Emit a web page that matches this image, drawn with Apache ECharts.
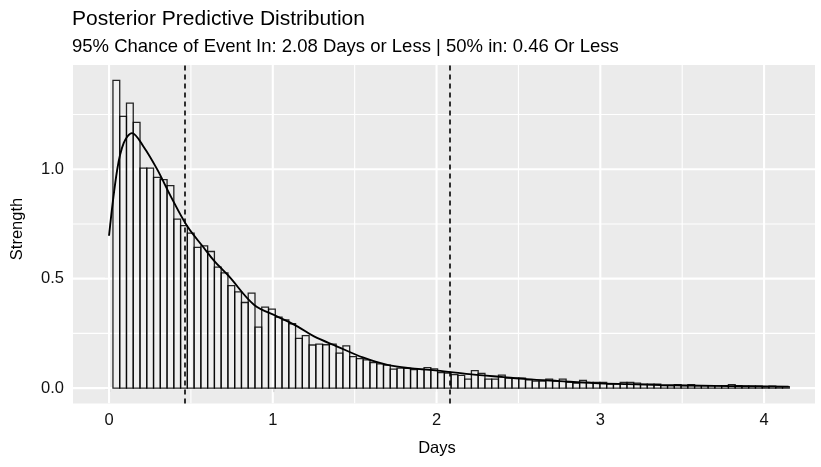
<!DOCTYPE html>
<html>
<head>
<meta charset="utf-8">
<script src="https://cdn.jsdelivr.net/npm/echarts@6/dist/echarts.min.js"></script>
<style>
  html, body { margin: 0; padding: 0; background: #fff; }
  #chart { width: 821px; height: 467px; }
</style>
</head>
<body>
<div id="chart"></div>
<script>
// Histogram of simulated days until the event (density-scaled bins)
const binStart = 0.024;
const binWidth = 0.0413;
const binHeights = [
  1.406, 1.241, 1.302, 1.214, 1.005, 1.005, 0.963, 0.952, 0.925, 0.772,
  0.742, 0.708, 0.643, 0.650, 0.624, 0.553, 0.526, 0.468, 0.440, 0.391,
  0.434, 0.279, 0.370, 0.361, 0.324, 0.312, 0.294, 0.227, 0.240, 0.197,
  0.201, 0.198, 0.201, 0.160, 0.193, 0.144, 0.135, 0.129, 0.117, 0.111,
  0.105, 0.087, 0.091, 0.090, 0.084, 0.087, 0.094, 0.088, 0.071, 0.069,
  0.062, 0.058, 0.041, 0.080, 0.067, 0.041, 0.041, 0.059, 0.046, 0.046,
  0.046, 0.038, 0.032, 0.032, 0.041, 0.032, 0.041, 0.027, 0.023, 0.035,
  0.026, 0.026, 0.026, 0.018, 0.018, 0.026, 0.026, 0.023, 0.018, 0.018,
  0.018, 0.011, 0.011, 0.016, 0.011, 0.016, 0.011, 0.011, 0.011, 0.011,
  0.011, 0.016, 0.011, 0.009, 0.009, 0.009, 0.007, 0.009, 0.007, 0.007
];

// Kernel density estimate of the same draws
const densityX = [0.0, 0.05, 0.09, 0.14, 0.21, 0.295, 0.377, 0.478, 0.58, 0.641,
  0.733, 0.885, 1.028, 1.15, 1.252, 1.394, 1.55, 1.70, 1.85, 2.005, 2.2, 2.41,
  2.55, 2.75, 2.96, 3.17, 3.37, 3.7, 4.15];
const densityY = [0.696, 0.998, 1.12, 1.165, 1.104, 0.998, 0.876, 0.739, 0.64, 0.582,
  0.510, 0.381, 0.327, 0.282, 0.236, 0.190, 0.140, 0.106, 0.090, 0.080, 0.064, 0.050,
  0.041, 0.032, 0.023, 0.018, 0.014, 0.010, 0.007];

// 50% and 95% quantiles of the predictive draws
const quantileMarks = [0.46, 2.08];

// Axis ticks and panel grid
const xTicks = [0, 1, 2, 3, 4];
const xMinorGrid = [0.5, 1.5, 2.5, 3.5];
const yTicks = [0, 0.5, 1.0];
const yMinorGrid = [0.25, 0.75, 1.25];

const xRange = [-0.22, 4.311];
const yRange = [-0.0703, 1.476];

const FONT = 'Liberation Sans, Arial, Helvetica, sans-serif';

const barData = binHeights.map((h, i) => {
  const x0 = binStart + i * binWidth;
  return [x0, x0 + binWidth, h];
});
const densityData = densityX.map((x, i) => [x, densityY[i]]);

function gridSeries(values, vertical, width) {
  return {
    type: 'custom',
    silent: true,
    z: 1,
    clip: true,
    data: values.map(v => vertical ? [v, 0] : [0, v]),
    encode: { x: 0, y: 1 },
    renderItem(params, api) {
      const cs = params.coordSys;
      const p = api.coord([api.value(0), api.value(1)]);
      const shape = vertical
        ? { x1: p[0], y1: cs.y, x2: p[0], y2: cs.y + cs.height }
        : { x1: cs.x, y1: p[1], x2: cs.x + cs.width, y2: p[1] };
      return { type: 'line', shape, style: { stroke: '#ffffff', lineWidth: width } };
    }
  };
}

const chart = echarts.init(document.getElementById('chart'), null, { renderer: 'canvas' });

chart.setOption({
  animation: false,
  backgroundColor: '#ffffff',
  title: [
    {
      text: 'Posterior Predictive Distribution',
      left: 72, top: 9, padding: 0,
      textStyle: { fontFamily: FONT, fontSize: 21, fontWeight: 'normal', color: '#000' }
    },
    {
      text: '95% Chance of Event In: 2.08 Days or Less | 50% in: 0.46 Or Less',
      left: 72, top: 37, padding: 0,
      textStyle: { fontFamily: FONT, fontSize: 18.5, fontWeight: 'normal', color: '#000' }
    }
  ],
  // axis titles
  graphic: [
    {
      type: 'text', x: 437, y: 448, silent: true,
      style: { text: 'Days', font: '16.5px ' + FONT, fill: '#000', align: 'center', verticalAlign: 'middle' }
    },
    {
      type: 'text', x: 17, y: 229, rotation: Math.PI / 2, silent: true,
      style: { text: 'Strength', font: '16.5px ' + FONT, fill: '#000', align: 'center', verticalAlign: 'middle' }
    }
  ],
  grid: {
    left: 73, right: 6, top: 65, bottom: 63.5,
    show: true, backgroundColor: '#EBEBEB', borderWidth: 0
  },
  xAxis: {
    type: 'value',
    min: xRange[0], max: xRange[1],
    axisLine: { show: false },
    axisTick: { show: true, length: 4, customValues: xTicks, lineStyle: { color: '#333', width: 1.1 } },
    axisLabel: { customValues: xTicks, margin: 8, fontFamily: FONT, fontSize: 16.5, color: '#111',
      formatter: v => String(v) },
    splitLine: { show: false }
  },
  yAxis: {
    type: 'value',
    min: yRange[0], max: yRange[1],
    axisLine: { show: false },
    axisTick: { show: true, length: 4, customValues: yTicks, lineStyle: { color: '#333', width: 1.1 } },
    axisLabel: { customValues: yTicks, margin: 9, fontFamily: FONT, fontSize: 16.5, color: '#111',
      formatter: v => v.toFixed(1) },
    splitLine: { show: false }
  },
  series: [
    gridSeries(xMinorGrid, true, 1.1),
    gridSeries(yMinorGrid, false, 1.1),
    gridSeries(xTicks, true, 2.1),
    gridSeries(yTicks, false, 2.1),
    {
      type: 'custom',
      name: 'histogram',
      z: 3,
      data: barData,
      encode: { x: [0, 1], y: 2 },
      renderItem(params, api) {
        const top = api.coord([api.value(0), api.value(2)]);
        const base = api.coord([api.value(1), 0]);
        return {
          type: 'rect',
          shape: { x: top[0], y: top[1], width: base[0] - top[0], height: base[1] - top[1] },
          style: { fill: 'rgba(255,255,255,0.2)', stroke: 'rgba(0,0,0,0.85)', lineWidth: 1.3 }
        };
      }
    },
    {
      type: 'line',
      name: 'density',
      z: 4,
      data: densityData,
      smooth: 0.35,
      showSymbol: false,
      lineStyle: { color: '#000', width: 1.9 },
      markLine: {
        silent: true,
        symbol: ['none', 'none'],
        label: { show: false },
        lineStyle: { color: '#000', width: 1.6, type: [5, 4] },
        data: quantileMarks.map(q => ({ xAxis: q }))
      }
    }
  ]
});
</script>
</body>
</html>
